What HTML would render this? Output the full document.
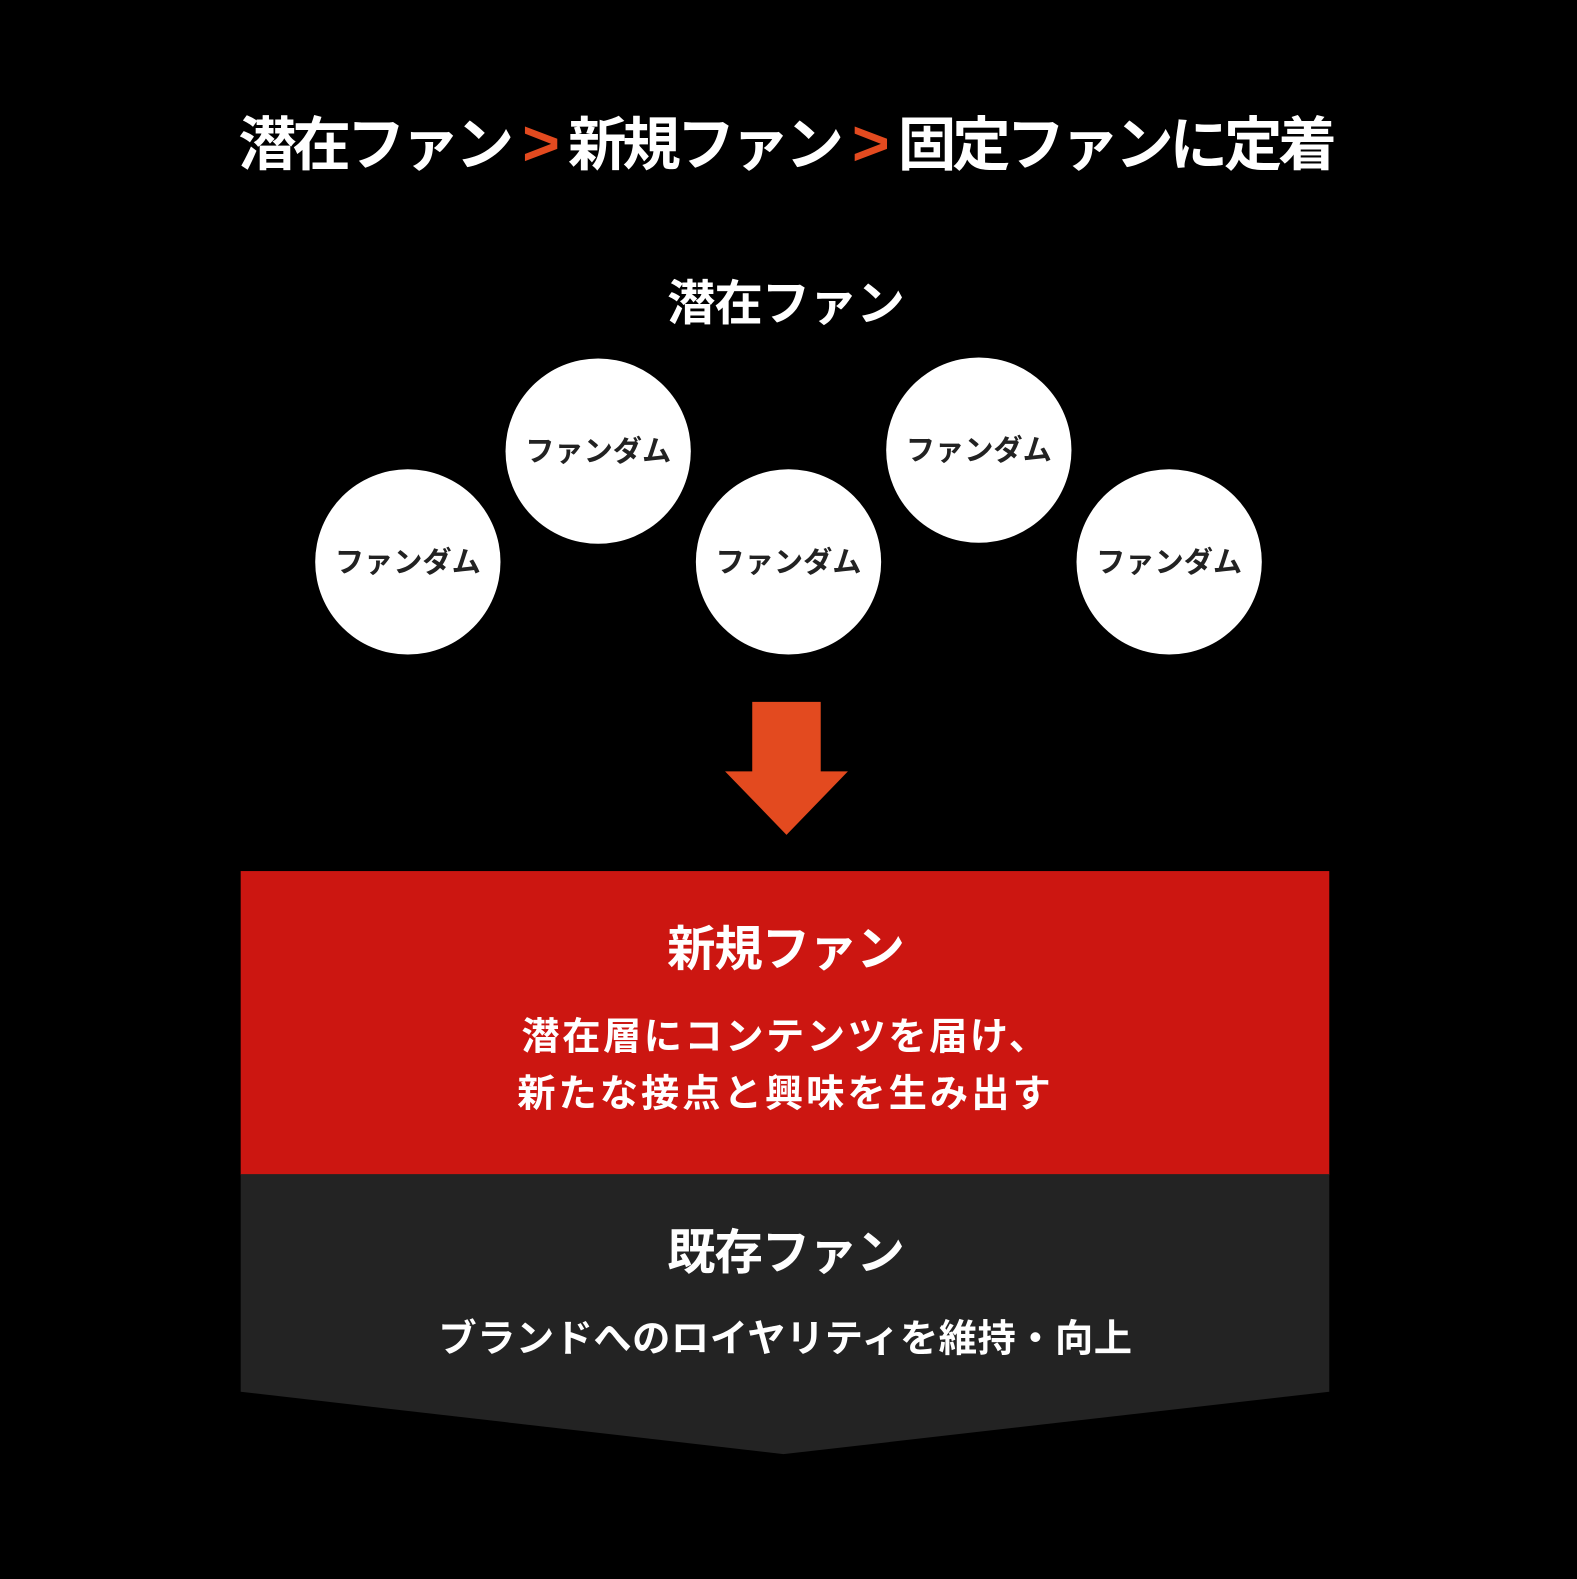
<!DOCTYPE html>
<html><head><meta charset="utf-8"><style>
html,body{margin:0;padding:0;background:#000;}
svg{display:block;}
text{font-family:"Liberation Sans","Noto Sans CJK JP",sans-serif;font-weight:700;}
</style></head><body>
<svg width="1577" height="1579" viewBox="0 0 1566 1568" xmlns="http://www.w3.org/2000/svg">
<rect width="1566" height="1568" fill="#000"/>
<text x="780" y="164" font-size="58" fill="#fff" text-anchor="middle" letter-spacing="-4">潜在ファン <tspan fill="#e34a1f" font-size="64">&gt;</tspan> 新規ファン <tspan fill="#e34a1f" font-size="64">&gt;</tspan> 固定ファンに定着</text>
<text x="780" y="318" font-size="48" fill="#fff" text-anchor="middle" letter-spacing="-1">潜在ファン</text>
<g fill="#fff">
<circle cx="405" cy="558" r="92"/><circle cx="594" cy="448" r="92"/><circle cx="783" cy="558" r="92"/><circle cx="972" cy="447" r="92"/><circle cx="1161" cy="558" r="92"/>
</g>
<g font-size="29" fill="#222" text-anchor="middle">
<text x="405" y="568">ファンダム</text><text x="594" y="458">ファンダム</text><text x="783" y="568">ファンダム</text><text x="972" y="457">ファンダム</text><text x="1161" y="568">ファンダム</text>
</g>
<path d="M747 697H815V766H842L781 829L720 766H747Z" fill="#e34a1f"/>
<rect x="239" y="865" width="1081" height="302" fill="#cc1611"/>
<path d="M239 1166H1320V1382L778 1444L239 1382Z" fill="#232323"/>
<text x="780" y="959" font-size="48" fill="#fff" text-anchor="middle" letter-spacing="-1">新規ファン</text>
<text x="780" y="1042" font-size="38" fill="#fff" text-anchor="middle" letter-spacing="2.5">潜在層にコンテンツを届け、</text>
<text x="780" y="1099" font-size="38" fill="#fff" text-anchor="middle" letter-spacing="3">新たな接点と興味を生み出す</text>
<text x="780" y="1260" font-size="48" fill="#fff" text-anchor="middle" letter-spacing="-1">既存ファン</text>
<text x="780" y="1342" font-size="38" fill="#fff" text-anchor="middle" letter-spacing="0.5">ブランドへのロイヤリティを維持・向上</text>
</svg>
</body></html>
